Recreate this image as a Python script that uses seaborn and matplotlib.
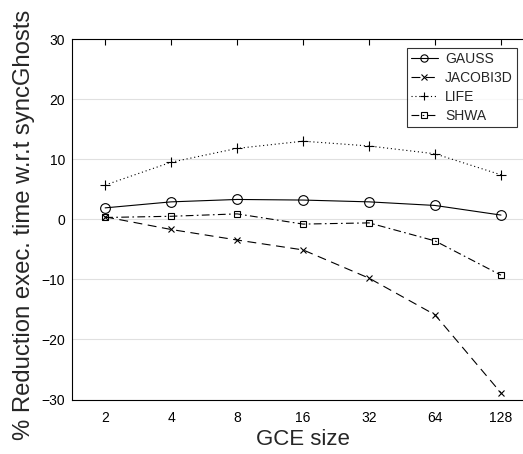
import numpy as np
import pandas as pd
import matplotlib
matplotlib.use("Agg")
import matplotlib.pyplot as plt
import seaborn as sns

gce_sizes = ["2", "4", "8", "16", "32", "64", "128"]
gauss = [1.9, 2.9, 3.3, 3.2, 2.9, 2.3, 0.7]
jacobi3d = [0.4, -1.7, -3.45, -5.1, -9.8, -15.9, -28.9]
life = [5.7, 9.5, 11.8, 13.0, 12.2, 10.9, 7.4]
shwa = [0.3, 0.5, 0.9, -0.8, -0.6, -3.6, -9.3]

series = {"GAUSS": gauss, "JACOBI3D": jacobi3d, "LIFE": life, "SHWA": shwa}
styles = {
    "GAUSS": dict(linestyle="-", marker="o", markersize=7),
    "JACOBI3D": dict(linestyle=(0, (8, 5)), marker="x", markersize=5),
    "LIFE": dict(linestyle=(0, (1, 2.5)), marker="+", markersize=7),
    "SHWA": dict(linestyle=(0, (7, 3, 1.5, 3)), marker="s", markersize=5),
}

rows = []
for name, vals in series.items():
    for i, v in enumerate(vals):
        rows.append({"pos": i, "value": v, "series": name})
df = pd.DataFrame(rows)

sns.set_style("white")
plt.rcParams["font.family"] = ["Liberation Sans", "DejaVu Sans"]

fig = plt.figure(figsize=(5.23, 4.54), dpi=100)
ax = fig.add_axes([0.138, 0.12, 0.883, 0.794])

for name in series:
    sub = df[df["series"] == name]
    sns.lineplot(data=sub, x="pos", y="value", ax=ax, color="black", linewidth=0.8,
                 markerfacecolor="none", markeredgecolor="black", markeredgewidth=0.8,
                 label=name, **styles[name])

ax.set_xlim(-0.5, 6.5)
ax.set_ylim(-30, 30)
ax.set_xticks(range(len(gce_sizes)))
ax.set_xticklabels(gce_sizes)
ax.set_yticks(np.arange(-30, 31, 10))
ax.yaxis.grid(True, color="#e0e0e0", linewidth=0.8)
ax.set_axisbelow(True)
ax.tick_params(direction="in", length=4, width=0.8, labelsize=10, top=True, right=True,
               colors="black")
ax.tick_params(axis="x", pad=8)
ax.tick_params(axis="y", pad=5)
for sp in ax.spines.values():
    sp.set_color("black")
    sp.set_linewidth(0.8)

ax.set_xlabel("GCE size", fontsize=16, labelpad=3)
ax.set_ylabel("% Reduction exec. time w.r.t syncGhosts", fontsize=17.2)
ax.yaxis.set_label_coords(-0.08, 0.485)

leg = ax.legend(loc="upper left", bbox_to_anchor=(0.725, 0.975), fontsize=10, frameon=True,
                fancybox=False, edgecolor="black", handlelength=1.9, handletextpad=0.55,
                borderpad=0.3, labelspacing=0.35, borderaxespad=0, markerscale=0.75)
leg.get_frame().set_linewidth(0.8)

fig.savefig("out.png", dpi=100)
